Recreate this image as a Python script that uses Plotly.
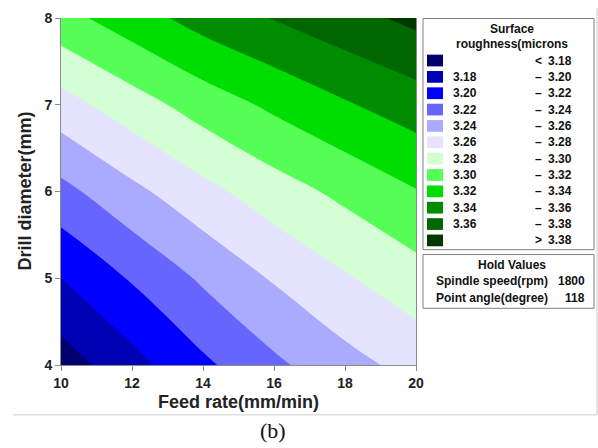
import plotly.graph_objects as go

# ---------------- data ----------------
feed_rate = [10, 12, 14, 16, 18, 20]          # x grid (mm/min)
drill_diameter = [4, 5, 6, 7, 8]              # y grid (mm)
roughness = [                                  # z (microns), rows = drill diameter
    [3.170, 3.193, 3.216, 3.236, 3.253, 3.267],
    [3.200, 3.222, 3.243, 3.262, 3.278, 3.292],
    [3.234, 3.255, 3.274, 3.291, 3.305, 3.319],
    [3.272, 3.291, 3.309, 3.324, 3.338, 3.350],
    [3.313, 3.331, 3.348, 3.361, 3.373, 3.385],
]
levels = [3.18, 3.20, 3.22, 3.24, 3.26, 3.28, 3.30, 3.32, 3.34, 3.36, 3.38]
band_colors = ["#00006e", "#0000b4", "#0000ff", "#6666ff", "#aaaaff", "#e4e4fe",
               "#d4ffd4", "#55ff55", "#00dd00", "#008c00", "#006600", "#003800"]
x_ticks = [10, 12, 14, 16, 18, 20]
y_ticks = [4, 5, 6, 7, 8]
hold_names = ["Spindle speed(rpm)", "Point angle(degree)"]
hold_values = ["1800", "118"]

# ---------------- layout helpers ----------------
W, H = 598, 448
L, R, T, B = 61, 182, 10, 83
PW, PH = W - L - R, H - T - B
FONT = "Liberation Sans, Arial, sans-serif"


def px(x):
    return (x - L) / PW


def py(y):
    return (H - B - y) / PH


n = len(band_colors)
colorscale = []
for k, c in enumerate(band_colors):
    lo = max(0.0, (k - 0.5) / (n - 1))
    hi = min(1.0, (k + 0.5) / (n - 1))
    colorscale.append([lo, c])
    colorscale.append([hi, c])

fig = go.Figure(go.Contour(
    x=feed_rate, y=drill_diameter, z=roughness,
    autocontour=False,
    contours=dict(start=levels[0], end=levels[-1], size=round(levels[1] - levels[0], 4),
                  coloring="fill", showlines=False),
    line=dict(width=0, smoothing=1.3),
    colorscale=colorscale, showscale=False, hoverinfo="skip",
))

shapes = []
annotations = []


def note(text, x, y, xanchor="center", size=12, color="#111", family=FONT, **kw):
    annotations.append(dict(text=text, x=px(x), y=py(y), xref="paper", yref="paper",
                            showarrow=False, xanchor=xanchor, yanchor="middle",
                            font=dict(family=family, size=size, color=color), **kw))


# legend box
shapes.append(dict(type="rect", xref="paper", yref="paper",
                   x0=px(423), x1=px(594), y0=py(10.5), y1=py(247),
                   line=dict(color="#7f7f7f", width=1), fillcolor="white"))
note("<b>Surface</b>", 512, 21)
note("<b>roughness(microns</b>", 512, 37)

row0, step = 53.5, 16.73
for k, c in enumerate(band_colors):
    yc = row0 + step * k
    shapes.append(dict(type="rect", xref="paper", yref="paper",
                       x0=px(427), x1=px(443), y0=py(yc + 6), y1=py(yc - 6),
                       line=dict(width=0), fillcolor=c))
    if k == 0:
        sym, left, right = "<", None, levels[0]
    elif k == n - 1:
        sym, left, right = ">", None, levels[-1]
    else:
        sym, left, right = "–", levels[k - 1], levels[k]
    if left is not None:
        note(f"<b>{left:.2f}</b>", 451, yc, xanchor="left")
    note(f"<b>{sym}</b>", 538, yc)
    note(f"<b>{right:.2f}</b>", 574, yc, xanchor="right")

# hold values box
shapes.append(dict(type="rect", xref="paper", yref="paper",
                   x0=px(423), x1=px(594), y0=py(252), y1=py(307),
                   line=dict(color="#7f7f7f", width=1), fillcolor="white"))
note("<b>Hold Values</b>", 512, 263)
for i, (nm, v) in enumerate(zip(hold_names, hold_values)):
    yc = 279.5 + 16.5 * i
    note(f"<b>{nm}</b>", 434, yc, xanchor="left")
    note(f"<b>{v}</b>", 587, yc, xanchor="right")

# axis titles
note("<b>Feed rate(mm/min)</b>", 238.5, 403, size=18, color="#222")
note("<b>Drill diameter(mm)</b>", 24, 187.5, size=18, color="#222", textangle=-90)

# outer light frame and caption
shapes.append(dict(type="line", xref="paper", yref="paper",
                   x0=px(13), x1=px(597), y0=py(416), y1=py(416),
                   line=dict(color="#dedede", width=1.5)))
shapes.append(dict(type="line", xref="paper", yref="paper",
                   x0=px(597), x1=px(597), y0=py(0), y1=py(416),
                   line=dict(color="#dedede", width=1.5)))
note("(b)", 273, 432, size=22, family="Liberation Serif, Times New Roman, serif")

axis_common = dict(showgrid=False, zeroline=False, showline=True, linecolor="#8a8a8a", linewidth=1,
                   ticks="outside", ticklen=5, tickcolor="#8a8a8a", tickwidth=1,
                   tickfont=dict(family=FONT, size=14, color="#222"))

fig.update_layout(
    width=W, height=H,
    margin=dict(l=L, r=R, t=T, b=B, pad=0),
    paper_bgcolor="white", plot_bgcolor="white",
    xaxis=dict(range=[feed_rate[0], feed_rate[-1]], tickvals=x_ticks,
               ticktext=[f"<b>{v}</b>" for v in x_ticks], mirror=False, **axis_common),
    yaxis=dict(range=[drill_diameter[0], drill_diameter[-1]], tickvals=y_ticks,
               ticktext=[f"<b>{v}</b>" for v in y_ticks], mirror=True, **axis_common),
    shapes=shapes, annotations=annotations, showlegend=False,
)

fig.write_html("out.html",
               config={"displayModeBar": False, "staticPlot": True},
               post_script="document.body.style.margin='0';document.body.style.padding='0';"
                           "document.body.style.overflow='hidden';")
